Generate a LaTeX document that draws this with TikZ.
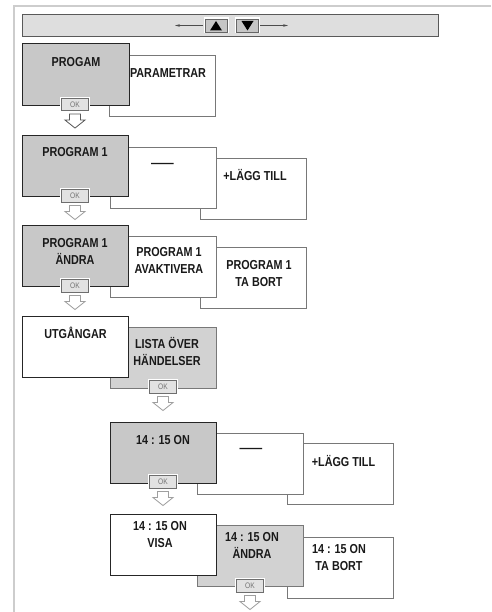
\documentclass[tikz,border=0pt]{standalone}
\usepackage{fontspec}
\setmainfont{Liberation Sans}[FakeStretch=0.83]
\usetikzlibrary{arrows.meta}
\definecolor{frontfill}{RGB}{200,200,200}
\definecolor{midfill}{RGB}{210,210,210}
\definecolor{barfill}{RGB}{222,222,222}
\definecolor{okfill}{RGB}{226,226,226}
\definecolor{framecol}{RGB}{205,205,205}
\definecolor{backline}{RGB}{120,120,120}
\definecolor{okline}{RGB}{110,110,110}
\tikzset{
  x=1pt, y=-1pt,
  panel/.style={rectangle, minimum width=106pt, minimum height=61pt, inner sep=0pt, anchor=north west},
  frontbox/.style={panel, draw=black!85, line width=1.1pt, fill=frontfill},
  whitefront/.style={panel, draw=black!85, line width=1.1pt, fill=white},
  backbox/.style={panel, draw=backline, line width=0.9pt, fill=white},
  graybackbox/.style={panel, draw=backline, line width=0.9pt, fill=midfill},
  lbl/.style={font=\bfseries\fontsize{13}{17}\selectfont, align=center, anchor=base, inner sep=0pt, text=black!90},
  okbtn/.style={rectangle, minimum width=27pt, minimum height=12.5pt, inner sep=0pt, fill=okfill, draw=okline, line width=0.6pt,
     preaction={draw=white, line width=3pt}, font=\fontsize{8}{8}\selectfont, text=black!55},
  downarr/.style={draw=gray!75, fill=white, line width=0.8pt, line join=miter},
  downarrdark/.style={draw=black!65, fill=white, line width=0.8pt, line join=miter},
  navbtn/.style={rectangle, minimum width=22pt, minimum height=13pt, inner sep=0pt, fill=gray!45, draw=black!60, line width=0.6pt,
     preaction={draw=white, line width=3pt}},
  navarrow/.style={draw=black!70, line width=0.6pt, -{Stealth[length=5pt,width=2.6pt]}}
}
\begin{document}
\begin{tikzpicture}
\useasboundingbox (0,0) rectangle (491,612);
% outer frame
\draw[framecol, line width=1.4pt] (14,612) -- (14,6) -- (491,6);
% top navigation bar
\node[rectangle, minimum width=416pt, minimum height=22pt, inner sep=0pt, anchor=north west, fill=barfill, draw=gray!70!black, line width=0.7pt] (bar) at (22,14) {};
\node[navbtn] (upbtn) at (216,25.5) {};
\node[navbtn] (dnbtn) at (247.5,25.5) {};
\fill[black] (210,30.5) -- (222,30.5) -- (216,21) -- cycle;
\fill[black] (241.5,21) -- (253.5,21) -- (247.5,30.5) -- cycle;
\coordinate (leftend) at (175,25.5);
\coordinate (rightend) at (288,25.5);
\draw[navarrow] ([xshift=-1.5pt]upbtn.west) -- (leftend);
\draw[navarrow] ([xshift=1.5pt]dnbtn.east) -- (rightend);

% ---- row 1
\node[backbox] (b1) at (109,55) {};
\node[frontbox, minimum width=107pt, minimum height=62pt] (f1) at (22,43) {};
\node[lbl] (t1) at (76,67) {PROGAM};
\node[lbl] (t1b) at (168,78) {PARAMETRAR};
\node[okbtn] (ok1) at (75,104.5) {OK};
\draw[downarrdark] (ok1.south) ++(-5.5,3) -- ++(11,0) -- ++(0,6) -- ++(4.5,0) -- ++(-10,8) -- ++(-10,-8) -- ++(4.5,0) -- cycle;

% ---- row 2
\node[backbox] (b2b) at (200,158) {};
\node[backbox] (b2a) at (110,147) {};
\node[frontbox] (f2) at (22,135) {};
\node[lbl] (t2) at (75,157) {PROGRAM 1};
\node[lbl, anchor=center] (t2a) at (162.5,165) {\scalebox{2.1}[1]{—}};
\node[lbl] (t2b) at (255,181) {+LÄGG TILL};
\node[okbtn] (ok2) at (75,196) {OK};
\draw[downarr] (ok2.south) ++(-5.5,3) -- ++(11,0) -- ++(0,6) -- ++(4.5,0) -- ++(-10,8) -- ++(-10,-8) -- ++(4.5,0) -- cycle;

% ---- row 3
\node[backbox] (b3b) at (200,247) {};
\node[backbox] (b3a) at (110,236) {};
\node[frontbox] (f3) at (22,225) {};
\node[lbl] (t3) at (75,264) {PROGRAM 1\\ÄNDRA};
\node[lbl] (t3a) at (169,273) {PROGRAM 1\\AVAKTIVERA};
\node[lbl] (t3b) at (259,286) {PROGRAM 1\\TA BORT};
\node[okbtn] (ok3) at (75,286) {OK};
\draw[downarr] (ok3.south) ++(-5.5,3) -- ++(11,0) -- ++(0,6) -- ++(4.5,0) -- ++(-10,8) -- ++(-10,-8) -- ++(4.5,0) -- cycle;

% ---- row 4
\node[graybackbox] (b4) at (110,327) {};
\node[whitefront] (f4) at (22,316) {};
\node[lbl] (t4) at (75.5,338) {UTGÅNGAR};
\node[lbl] (t4a) at (167,365) {LISTA ÖVER\\HÄNDELSER};
\node[okbtn] (ok4) at (163,387) {OK};
\draw[downarr] (ok4.south) ++(-5.5,3) -- ++(11,0) -- ++(0,6) -- ++(4.5,0) -- ++(-10,8) -- ++(-10,-8) -- ++(4.5,0) -- cycle;

% ---- row 5
\node[backbox] (b5b) at (287,443) {};
\node[backbox] (b5a) at (197,433) {};
\node[frontbox] (f5) at (110,422) {};
\node[lbl] (t5) at (163,444) {14 : 15 ON};
\node[lbl, anchor=center] (t5a) at (251,450) {\scalebox{2.1}[1]{—}};
\node[lbl] (t5b) at (343.5,466) {+LÄGG TILL};
\node[okbtn] (ok5) at (163,482) {OK};
\draw[downarr] (ok5.south) ++(-5.5,3) -- ++(11,0) -- ++(0,6) -- ++(4.5,0) -- ++(-10,8) -- ++(-10,-8) -- ++(4.5,0) -- cycle;

% ---- row 6
\node[backbox] (b6b) at (287,537) {};
\node[graybackbox] (b6a) at (197,525) {};
\node[whitefront] (f6) at (110,514) {};
\node[lbl] (t6) at (160,547) {14 : 15 ON\\VISA};
\node[lbl] (t6a) at (252,558) {14 : 15 ON\\ÄNDRA};
\node[lbl] (t6b) at (339,570) {14 : 15 ON\\TA BORT};
\node[okbtn] (ok6) at (250,586) {OK};
\draw[downarr] (ok6.south) ++(-5.5,3) -- ++(11,0) -- ++(0,6) -- ++(4.5,0) -- ++(-10,8) -- ++(-10,-8) -- ++(4.5,0) -- cycle;
\end{tikzpicture}
\end{document}
